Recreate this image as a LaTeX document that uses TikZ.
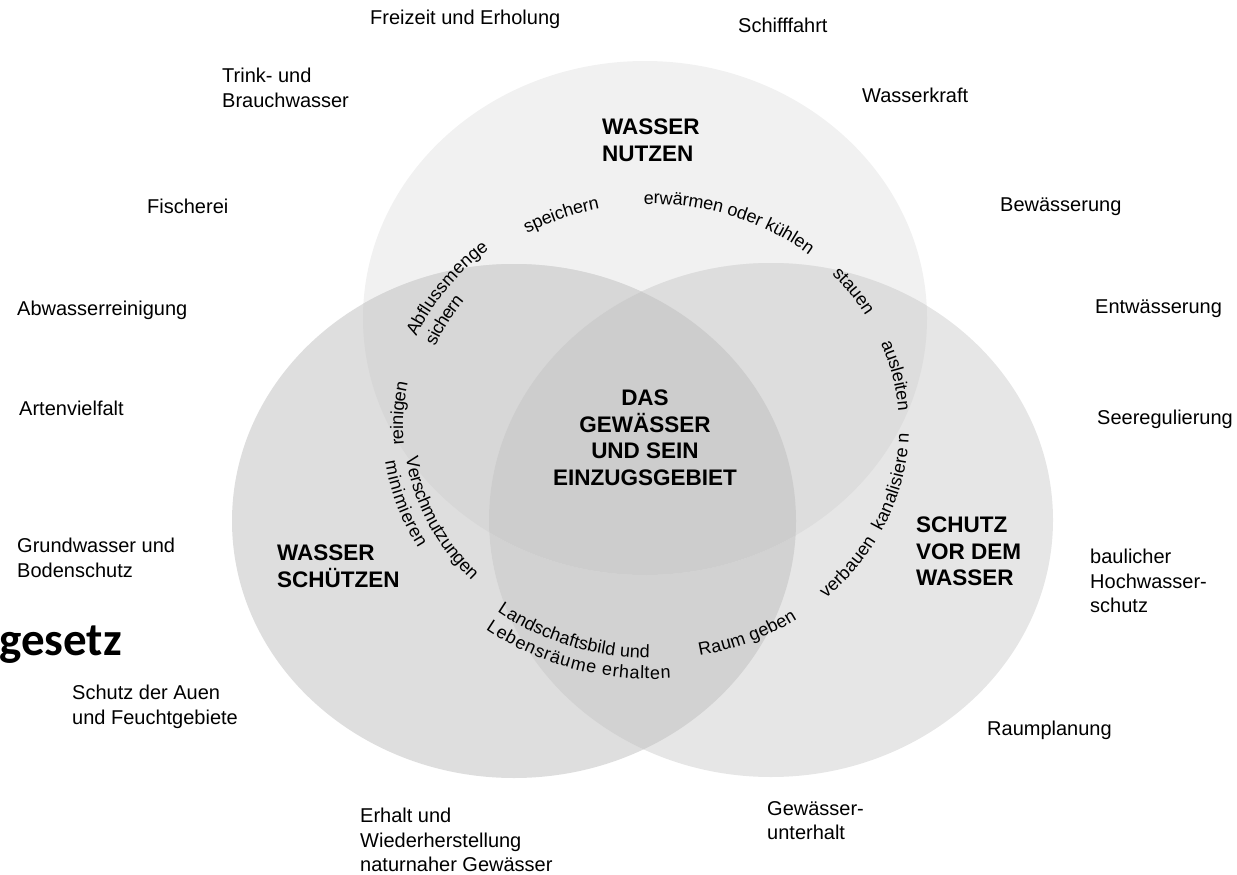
\documentclass[tikz,border=0pt]{standalone}
\usepackage{fontspec}
\setmainfont{Liberation Sans}
\newfontfamily\lawfont{Carlito}
\usetikzlibrary{decorations.text}
\definecolor{onlyT}{HTML}{F1F1F1}
\definecolor{onlyL}{HTML}{DEDEDE}
\definecolor{onlyR}{HTML}{E6E6E6}
\definecolor{capTL}{HTML}{D7D7D7}
\definecolor{capTR}{HTML}{DDDDDD}
\definecolor{capLR}{HTML}{D2D2D2}
\definecolor{capTLR}{HTML}{CDCDCD}
\newcommand{\ringfont}{\fontsize{18}{20}\selectfont}
% #1 align, #2 from, #3 to, #4 raise, #5 text
\newcommand{\ringlabel}[5]{%
  \path[decorate, decoration={text along path, text align=#1, raise=#4, text={|\ringfont|#5}}]
    (ring) ++(#2:253 and 228) arc[start angle=#2, end angle=#3, x radius=253, y radius=228];}

\begin{document}
\begin{tikzpicture}[x=1pt, y=-1pt, font=\fontsize{20}{24.5}\selectfont,
  item/.style={anchor=north west, align=left, inner sep=0pt},
  topic/.style={anchor=north west, align=left, inner sep=0pt, font=\bfseries\fontsize{22.5}{26.5}\selectfont},
  oval/.style={x radius=282, y radius=257}]
\useasboundingbox (0,0) rectangle (1237,875);
\coordinate (nutzen) at (645,318);
\coordinate (schuetzen) at (514,521);
\coordinate (vorwasser) at (771,520);
\coordinate (ring) at (651,427);

% the three fields
\fill[onlyT] (nutzen) ellipse[oval];
\fill[onlyL] (schuetzen) ellipse[oval];
\fill[onlyR] (vorwasser) ellipse[oval];
\begin{scope}
  \clip (schuetzen) ellipse[oval];
  \fill[capLR] (vorwasser) ellipse[oval];
\end{scope}
\begin{scope}
  \clip (nutzen) ellipse[oval];
  \fill[capTL] (schuetzen) ellipse[oval];
  \fill[capTR] (vorwasser) ellipse[oval];
  \clip (schuetzen) ellipse[oval];
  \fill[capTLR] (vorwasser) ellipse[oval];
\end{scope}

% field titles
\node[topic] (tnutzen) at (602,119) {WASSER\\NUTZEN};
\node[topic] (tschuetzen) at (277,545) {WASSER\\SCHÜTZEN};
\node[topic] (tschutz) at (916,517) {SCHUTZ\\VOR DEM\\WASSER};
\node[topic, anchor=north, align=center] (tmitte) at (645,390) {DAS\\GEWÄSSER\\UND SEIN\\EINZUGSGEBIET};

% ring of verbs
\ringlabel{center}{-126}{-96}{-5pt}{speichern}
\ringlabel{center}{-96}{-46}{-5pt}{erwärmen oder kühlen}
\ringlabel{center}{-51.5}{-21.5}{-5pt}{stauen}
\ringlabel{center}{-30}{4}{-5pt}{ausleiten}
\ringlabel{center}{34}{-6}{-5pt}{kanalisiere n}
\ringlabel{center}{58}{18}{-5pt}{verbauen}
\ringlabel{center}{92}{42}{-5pt}{Raum geben}
\ringlabel{left}{127}{60}{-3pt}{Landschaftsbild und}
\ringlabel{left}{127}{60}{-24pt}{Lebensräume erhalten}
\ringlabel{left}{172}{110}{5.5pt}{Verschmutzungen}
\ringlabel{left}{172}{110}{-15.5pt}{minimieren}
\ringlabel{center}{163.4}{203.4}{-5pt}{reinigen}
\ringlabel{left}{-157}{-100}{2pt}{Abflussmenge}
\ringlabel{left}{-157}{-100}{-19pt}{sichern}

% outer items
\node[item] (freizeit) at (370,10) {Freizeit und Erholung};
\node[item] (schifffahrt) at (738,18) {Schifffahrt};
\node[item] (trink) at (222,68) {Trink- und\\Brauchwasser};
\node[item] (wasserkraft) at (862,88) {Wasserkraft};
\node[item] (fischerei) at (147,199) {Fischerei};
\node[item] (bewaesserung) at (1000,198) {Bewässerung};
\node[item] (abwasser) at (17,301) {Abwasserreinigung};
\node[item] (entwaesserung) at (1095,300) {Entwässerung};
\node[item] (arten) at (19,401) {Artenvielfalt};
\node[item] (seeregulierung) at (1097,410) {Seeregulierung};
\node[item] (grundwasser) at (17,538) {Grundwasser und\\Bodenschutz};
\node[item] (hochwasser) at (1090,549) {baulicher\\Hochwasser-\\schutz};
\node[item] (auen) at (72,685) {Schutz der Auen\\und Feuchtgebiete};
\node[item] (raumplanung) at (987,721) {Raumplanung};
\node[item] (erhalt) at (360,808) {Erhalt und\\Wiederherstellung\\naturnaher Gewässer};
\node[item] (unterhalt) at (767,801) {Gewässer-\\unterhalt};

\node[anchor=base west, inner sep=0pt, font=\lawfont\bfseries\fontsize{47}{50}\selectfont] (gesetz) at (-1,655) {gesetz};
\end{tikzpicture}
\end{document}
